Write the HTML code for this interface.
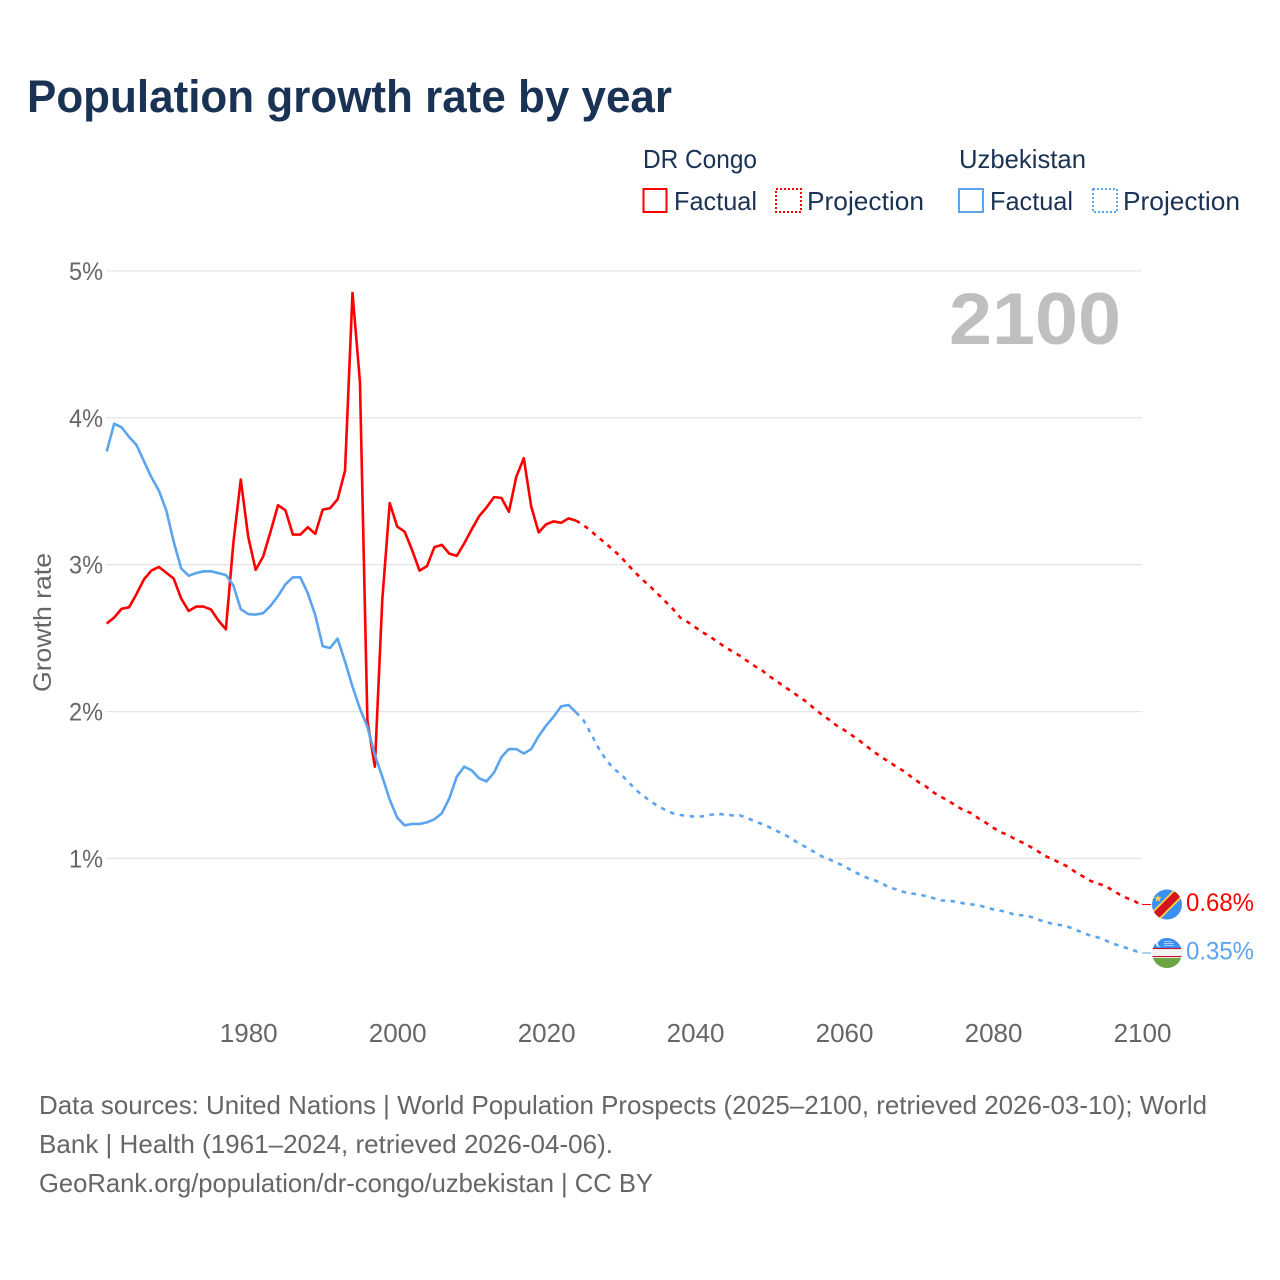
<!DOCTYPE html>
<html lang="en">
<head>
<meta charset="utf-8">
<title>Population growth rate by year</title>
<style>
html,body{margin:0;padding:0;background:#fff;}
svg{display:block;font-family:"Liberation Sans",sans-serif;}
</style>
</head>
<body>
<svg id="chart" xmlns="http://www.w3.org/2000/svg" width="1280" height="1280" viewBox="0 0 1280 1280">
  <defs>
    <clipPath id="flag-clip"><circle cx="0" cy="0" r="15"/></clipPath>
  </defs>
  <rect x="0" y="0" width="1280" height="1280" fill="#ffffff"/>

  <text x="27" y="112" font-size="45" font-weight="700" fill="#1a3354" textLength="645" lengthAdjust="spacingAndGlyphs">Population growth rate by year</text>

  <g font-size="26" fill="#1a3354">
    <text x="643" y="168" textLength="114" lengthAdjust="spacingAndGlyphs">DR Congo</text>
    <text x="959" y="168" textLength="127" lengthAdjust="spacingAndGlyphs">Uzbekistan</text>
    <rect x="643.5" y="189" width="23" height="23" fill="none" stroke="#ff0000" stroke-width="2"/>
    <text x="674" y="210" textLength="83" lengthAdjust="spacingAndGlyphs">Factual</text>
    <rect x="776" y="189" width="25" height="23" fill="none" stroke="#ff0000" stroke-width="2" stroke-dasharray="2 2"/>
    <text x="807" y="210" textLength="117" lengthAdjust="spacingAndGlyphs">Projection</text>
    <rect x="959" y="189" width="24" height="23" fill="none" stroke="#5ba4ee" stroke-width="2"/>
    <text x="990" y="210" textLength="83" lengthAdjust="spacingAndGlyphs">Factual</text>
    <rect x="1093" y="189" width="24" height="23" fill="none" stroke="#5ba4ee" stroke-width="2" stroke-dasharray="2 2"/>
    <text x="1123" y="210" textLength="117" lengthAdjust="spacingAndGlyphs">Projection</text>
  </g>

  <g id="grid"></g>
  <g id="y-ticks"></g>
  <g id="x-ticks"></g>

  <text transform="translate(51,622.5) rotate(-90)" text-anchor="middle" font-size="25" fill="#666666" textLength="139" lengthAdjust="spacingAndGlyphs">Growth rate</text>

  <text x="949" y="344" font-size="73" font-weight="700" fill="#bfbfbf" textLength="172" lengthAdjust="spacingAndGlyphs">2100</text>

  <g id="series"></g>

  <g id="flag-dr-congo">
    <g clip-path="url(#flag-clip)">
      <rect x="-16" y="-16" width="32" height="32" fill="#3a8ff0"/>
      <polygon points="-16,8 8,-16 16,-16 16,-8 -8,16 -16,16" fill="#f7d449"/>
      <polygon points="-16,10.5 10.5,-16 16,-16 16,-10.5 -10.5,16 -16,16" fill="#d3141c"/>
      <polygon points="-9,-10 -8,-7.2 -5,-7.2 -7.4,-5.4 -6.5,-2.5 -9,-4.2 -11.5,-2.5 -10.6,-5.4 -13,-7.2 -10,-7.2" fill="#f7d449"/>
    </g>
  </g>
  <g id="flag-uzbekistan">
    <g clip-path="url(#flag-clip)">
      <rect x="-16" y="-16" width="32" height="11" fill="#3a8ff0"/>
      <rect x="-16" y="-5" width="32" height="1.2" fill="#c8102e"/>
      <rect x="-16" y="-3.8" width="32" height="6.8" fill="#f2f2f2"/>
      <rect x="-16" y="3" width="32" height="1.2" fill="#c8102e"/>
      <rect x="-16" y="4.2" width="32" height="0.8" fill="#f2f2f2"/>
      <rect x="-16" y="5" width="32" height="11" fill="#6ba544"/>
      <circle cx="-8" cy="-9.5" r="3.2" fill="#ffffff"/>
      <circle cx="-6.6" cy="-9.5" r="2.8" fill="#3a8ff0"/>
      <path d="M-3-11.5H5M-3-9.5H7M-3-7.5H7" stroke="#a9cdf6" stroke-width="1"/>
    </g>
  </g>

  <g id="end-labels"></g>

  <g font-size="26" fill="#666666">
    <text x="39" y="1114" textLength="1168" lengthAdjust="spacingAndGlyphs">Data sources: United Nations | World Population Prospects (2025–2100, retrieved 2026-03-10); World</text>
    <text x="39" y="1153" textLength="574" lengthAdjust="spacingAndGlyphs">Bank | Health (1961–2024, retrieved 2026-04-06).</text>
    <text x="39" y="1192" textLength="614" lengthAdjust="spacingAndGlyphs">GeoRank.org/population/dr-congo/uzbekistan | CC BY</text>
  </g>
</svg>
<script>
var yTickValues = [1, 2, 3, 4, 5];
var yTickLabels = ['1%', '2%', '3%', '4%', '5%'];
var xTickValues = [1980, 2000, 2020, 2040, 2060, 2080, 2100];
var xTickLabels = ['1980', '2000', '2020', '2040', '2060', '2080', '2100'];
var factualStartYear = 1961;
var projectionStartYear = 2024;
var drCongoFactual = [2.60,2.64,2.70,2.71,2.80,2.90,2.96,2.985,2.945,2.905,2.77,2.685,2.715,2.715,2.695,2.62,2.56,3.145,3.58,3.19,2.965,3.055,3.225,3.405,3.37,3.205,3.205,3.255,3.21,3.375,3.385,3.445,3.64,4.85,4.245,1.94,1.625,2.76,3.42,3.26,3.225,3.10,2.96,2.99,3.12,3.135,3.075,3.06,3.145,3.24,3.33,3.39,3.46,3.455,3.36,3.60,3.725,3.395,3.22,3.275,3.295,3.285,3.315,3.30];
var drCongoProjection = [3.30,3.27,3.23,3.186,3.145,3.10,3.055,2.998,2.945,2.895,2.85,2.80,2.75,2.70,2.64,2.61,2.575,2.54,2.51,2.475,2.44,2.41,2.38,2.345,2.31,2.28,2.24,2.205,2.17,2.135,2.10,2.065,2.02,1.98,1.945,1.905,1.875,1.84,1.805,1.765,1.727,1.69,1.66,1.625,1.595,1.557,1.52,1.49,1.45,1.42,1.393,1.36,1.33,1.31,1.275,1.245,1.21,1.18,1.16,1.13,1.107,1.08,1.05,1.017,0.995,0.97,0.945,0.91,0.88,0.85,0.83,0.815,0.785,0.755,0.73,0.71,0.68];
var uzbekistanFactual = [3.77,3.96,3.935,3.87,3.815,3.705,3.595,3.505,3.37,3.155,2.975,2.925,2.943,2.955,2.955,2.943,2.93,2.86,2.697,2.664,2.66,2.67,2.72,2.787,2.866,2.914,2.914,2.805,2.657,2.445,2.433,2.497,2.34,2.17,2.02,1.897,1.705,1.557,1.40,1.278,1.226,1.235,1.235,1.246,1.267,1.308,1.41,1.557,1.625,1.60,1.546,1.525,1.585,1.69,1.745,1.745,1.715,1.745,1.834,1.905,1.965,2.035,2.045,1.995];
var uzbekistanProjection = [1.995,1.943,1.852,1.755,1.675,1.614,1.575,1.523,1.47,1.428,1.39,1.357,1.33,1.308,1.296,1.29,1.285,1.287,1.296,1.305,1.298,1.294,1.294,1.276,1.253,1.235,1.212,1.187,1.162,1.133,1.10,1.074,1.044,1.015,0.995,0.97,0.95,0.918,0.894,0.87,0.854,0.833,0.804,0.79,0.772,0.763,0.754,0.745,0.73,0.715,0.713,0.706,0.695,0.688,0.683,0.668,0.654,0.645,0.634,0.615,0.613,0.604,0.586,0.568,0.556,0.547,0.536,0.518,0.495,0.477,0.464,0.445,0.423,0.405,0.39,0.373,0.35];
var endLabels = ['0.68%', '0.35%'];

var SVG_NS = 'http://www.w3.org/2000/svg';
var plotLeft = 106.7, plotRight = 1142, yearMin = 1961, yearMax = 2100;
var y1Pixel = 858.5, pixelsPerPercent = 146.9;
var RED = '#ff0000', BLUE = '#5ba4ee';

function xScale(year) {
  return plotLeft + (year - yearMin) * (plotRight - plotLeft) / (yearMax - yearMin);
}
function yScale(v) {
  return y1Pixel - (v - 1) * pixelsPerPercent;
}
function make(tag, attrs, parent, text) {
  var el = document.createElementNS(SVG_NS, tag);
  for (var k in attrs) { el.setAttribute(k, attrs[k]); }
  if (text !== undefined) { el.textContent = text; }
  parent.appendChild(el);
  return el;
}
function seriesPoints(values, startYear) {
  return values.map(function (v, i) {
    return xScale(startYear + i).toFixed(2) + ',' + yScale(v).toFixed(2);
  }).join(' ');
}

var gridGroup = document.getElementById('grid');
var yTickGroup = document.getElementById('y-ticks');
yTickValues.forEach(function (v, i) {
  var line = make('line', {x1: 106, x2: plotRight, y1: yScale(v), y2: yScale(v), stroke: '#e6e6e6', 'stroke-width': 1.3}, gridGroup);
  
  
  var label = make('text', {x: 103, y: yScale(v) + 9, 'text-anchor': 'end', 'font-size': 25, fill: '#666666', textLength: 34, lengthAdjust: 'spacingAndGlyphs'}, yTickGroup, yTickLabels[i]);
  
  
});

var xTickGroup = document.getElementById('x-ticks');
xTickValues.forEach(function (v, i) {
  var label = make('text', {x: xScale(v) + 0.5, y: 1042, 'text-anchor': 'middle', 'font-size': 26, fill: '#666666'}, xTickGroup, xTickLabels[i]);
  
  
});

var seriesGroup = document.getElementById('series');
var lineAttrs = {fill: 'none', 'stroke-width': 2.6, 'stroke-linejoin': 'round'};

function addLine(values, startYear, color, dashed) {
  var attrs = {points: seriesPoints(values, startYear), stroke: color};
  for (var k in lineAttrs) { attrs[k] = lineAttrs[k]; }
  if (dashed) { attrs['stroke-dasharray'] = '4.5 5.5'; }
  return make('polyline', attrs, seriesGroup);
}

var projBlue = addLine(uzbekistanProjection, projectionStartYear, BLUE, true);


var projRed = addLine(drCongoProjection, projectionStartYear, RED, true);


var factRed = addLine(drCongoFactual, factualStartYear, RED, false);


var factBlue = addLine(uzbekistanFactual, factualStartYear, BLUE, false);



var endValues = [drCongoProjection[drCongoProjection.length - 1], uzbekistanProjection[uzbekistanProjection.length - 1]];
var endColors = [RED, BLUE];
var flagIds = ['flag-dr-congo', 'flag-uzbekistan'];
var endGroup = document.getElementById('end-labels');
endValues.forEach(function (v, i) {
  var cy = yScale(v) - 1;
  document.getElementById(flagIds[i]).setAttribute('transform', 'translate(1167,' + cy.toFixed(2) + ')');
  var leader = make('line', {x1: plotRight, x2: 1151, y1: cy, y2: cy, stroke: endColors[i], 'stroke-width': 1}, endGroup);
  
  
  var label = make('text', {x: 1186, y: cy + 6.5, 'font-size': 25, fill: endColors[i], textLength: 68, lengthAdjust: 'spacingAndGlyphs'}, endGroup, endLabels[i]);
  
  
});
</script>
</body>
</html>
